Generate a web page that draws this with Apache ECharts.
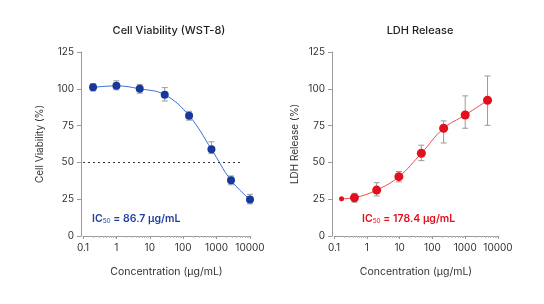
<!DOCTYPE html>
<html>
<head>
	<meta charset="utf-8">
	<title>Cell Viability / LDH Release</title>
	<script src="https://cdn.jsdelivr.net/npm/echarts@6/dist/echarts.min.js"></script>
	<style>
		html, body { margin: 0; padding: 0; background: #fff; }
	</style>
</head>
<body>
	<div id="chart" style="width: 544px;height:304px;"></div>
	<script type="text/javascript">
		// concentration (ug/mL), mean %, error up/down
		var viaConc = [0.2, 1, 5, 28, 150, 700, 2700, 10000];
		var viaMean = [101, 102, 100, 96, 81.7, 59, 37.8, 24.8];
		var viaErrUp = [2.5, 3.4, 3, 4.8, 3, 5, 3, 3.5];
		var viaErrDown = [2.5, 2.7, 3, 4.3, 3, 3, 3, 3];

		var ldhConc = [0.17, 0.42, 2, 9.5, 46, 220, 1000, 4800];
		var ldhMean = [25.3, 26, 31.2, 40.3, 56.2, 73.2, 82.2, 92.2];
		var ldhErrUp = [0, 3, 5, 3.5, 5.5, 5, 13, 16.5];
		var ldhErrDown = [0, 3, 4, 3.5, 5, 10, 9, 17];

		var yTicks = [0, 25, 50, 75, 100, 125];
		var xRange = [0.1, 10000];
		var viaRefLine = [[0.1, 50], [5700, 50]];

		var blue = '#17389a';
		var blueLine = '#3d6fd6';
		var red = '#e2101c';
		var redLine = '#f24a4a';
		var grey = '#9a9a9a';
		var font = 'Inter, "Noto Sans", sans-serif';

		function pts(xs, ys) {
			var out = [];
			for (var i = 0; i < xs.length; i++) out.push([xs[i], ys[i]]);
			return out;
		}
		function errData(xs, ys, up, down) {
			var out = [];
			for (var i = 0; i < xs.length; i++) {
				if (up[i] === 0 && down[i] === 0) continue;
				out.push([xs[i], ys[i] - down[i], ys[i] + up[i]]);
			}
			return out;
		}
		function errRender(params, api) {
			var lo = api.coord([api.value(0), api.value(1)]);
			var hi = api.coord([api.value(0), api.value(2)]);
			var w = 3;
			var st = { stroke: grey, lineWidth: 1 };
			return {
				type: 'group',
				children: [
					{ type: 'line', shape: { x1: hi[0], y1: hi[1], x2: lo[0], y2: lo[1] }, style: st },
					{ type: 'line', shape: { x1: hi[0] - w, y1: hi[1], x2: hi[0] + w, y2: hi[1] }, style: st },
					{ type: 'line', shape: { x1: lo[0] - w, y1: lo[1], x2: lo[0] + w, y2: lo[1] }, style: st }
				]
			};
		}

		function xAxisOpt(idx) {
			return {
				gridIndex: idx,
				type: 'log',
				logBase: 10,
				min: xRange[0],
				max: xRange[1],
				name: 'Concentration (µg/mL)',
				nameLocation: 'middle',
				nameGap: 30,
				nameTextStyle: { color: '#333', fontSize: 10.5, fontFamily: font },
				axisLine: { lineStyle: { color: grey } },
				axisTick: { length: 3, lineStyle: { color: grey } },
				minorTick: { show: true, splitNumber: 9, length: 2, lineStyle: { color: '#bbb' } },
				axisLabel: {
					color: '#333', fontSize: 10, fontFamily: font, margin: 7,
					formatter: function (v) { return String(Math.round(v * 10) / 10); }
				},
				splitLine: { show: false }
			};
		}
		function yAxisOpt(idx, name, gap) {
			return {
				gridIndex: idx,
				type: 'value',
				min: yTicks[0],
				max: yTicks[yTicks.length - 1],
				interval: 25,
				offset: 2,
				name: name,
				nameLocation: 'middle',
				nameRotate: 90,
				nameGap: gap,
				nameTextStyle: { color: '#333', fontSize: 10, fontFamily: font },
				axisLine: { show: true, lineStyle: { color: grey } },
				axisTick: { show: true, length: 4, lineStyle: { color: grey } },
				axisLabel: { color: '#333', fontSize: 10, fontFamily: font, margin: 7 },
				splitLine: { show: false }
			};
		}

		var myChart = echarts.init(document.getElementById('chart'));
		var option = {
			animation: false,
			backgroundColor: '#fff',
			title: [
				{ text: 'Cell Viability (WST-8)', left: 164, top: 20, textAlign: 'center',
					textStyle: { color: '#1e1e1e', fontSize: 11, fontWeight: 500, fontFamily: font } },
				{ text: 'LDH Release', left: 415, top: 20, textAlign: 'center',
					textStyle: { color: '#1e1e1e', fontSize: 11, fontWeight: 500, fontFamily: font } }
			],
			grid: [
				{ left: 83, top: 52, width: 167, height: 184 },
				{ left: 334, top: 52, width: 164, height: 184 }
			],
			xAxis: [xAxisOpt(0), xAxisOpt(1)],
			yAxis: [yAxisOpt(0, 'Cell Viability (%)', 36), yAxisOpt(1, 'LDH Release (%)', 32)],
			graphic: [
				{ type: 'text', left: 92, top: 213,
					style: { text: '{a|IC}{s|50}{a| = 86.7 µg/mL}', rich: {
						a: { fill: '#1f3fa0', fontSize: 10.5, fontWeight: 600, fontFamily: font },
						s: { fill: '#1f3fa0', fontSize: 6.5, fontFamily: font, padding: [6, 0, 0, 0] } } } },
				{ type: 'text', left: 362, top: 213,
					style: { text: '{a|IC}{s|50}{a| = 178.4 µg/mL}', rich: {
						a: { fill: red, fontSize: 10.5, fontWeight: 600, fontFamily: font },
						s: { fill: red, fontSize: 6.5, fontFamily: font, padding: [6, 0, 0, 0] } } } }
			],
			series: [
				{
					type: 'custom', xAxisIndex: 0, yAxisIndex: 0,
					renderItem: errRender,
					data: errData(viaConc, viaMean, viaErrUp, viaErrDown), z: 1
				},
				{
					type: 'line', xAxisIndex: 0, yAxisIndex: 0,
					data: pts(viaConc, viaMean),
					smooth: 0.4,
					symbol: 'circle', symbolSize: 8,
					lineStyle: { color: blueLine, width: 1 },
					itemStyle: { color: blue },
					markLine: {
						silent: true, symbol: 'none', label: { show: false },
						lineStyle: { color: '#333', type: [2, 3], width: 1 },
						data: [[{ coord: viaRefLine[0] }, { coord: viaRefLine[1] }]]
					},
					z: 3
				},
				{
					type: 'custom', xAxisIndex: 1, yAxisIndex: 1,
					renderItem: errRender,
					data: errData(ldhConc, ldhMean, ldhErrUp, ldhErrDown), z: 1
				},
				{
					type: 'line', xAxisIndex: 1, yAxisIndex: 1,
					data: pts(ldhConc, ldhMean),
					smooth: 0.4,
					symbol: 'circle',
					symbolSize: function (v, p) { return p.dataIndex === 0 ? 5 : 9; },
					lineStyle: { color: redLine, width: 1 },
					itemStyle: { color: red },
					z: 3
				}
			]
		};
		myChart.setOption(option);
	</script>
</body>
</html>
